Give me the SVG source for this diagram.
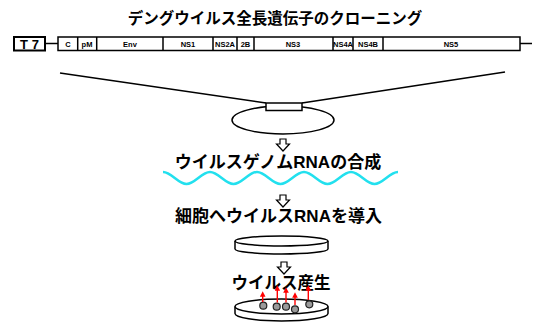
<svg xmlns="http://www.w3.org/2000/svg" width="535" height="324" viewBox="0 0 535 324">
  <defs>
    <style>
      .jp { font-family: "Liberation Sans", "Noto Sans CJK JP", sans-serif; font-weight: bold; fill: #000; text-anchor: middle; }
      .seg { fill: #fff; stroke: #000; stroke-width: 1.5; }
      .lbl { font-family: "Liberation Sans", Arial, sans-serif; font-weight: bold; font-size: 7.5px; text-anchor: middle; fill: #000; }
      .ln { stroke: #000; stroke-width: 1.5; fill: none; }
      .step { fill: #fff; stroke: #000; stroke-width: 1.2; }
      .dish { fill: #fff; stroke: #000; stroke-width: 1.5; }
      .colony { fill: #9a9a9a; stroke: #222; stroke-width: 1.2; }
      .up { stroke: #f00; stroke-width: 1.4; marker-end: url(#redHead); }
    </style>
    <marker id="redHead" viewBox="0 0 10 10" refX="5" refY="5" markerWidth="4" markerHeight="4" orient="auto">
      <path d="M0,0 L10,5 L0,10 z" fill="#f00"/>
    </marker>
    <path id="hollowDown" d="M-3,0 h6 v5 h3.5 l-6.5,7 l-6.5,-7 h3.5 z"/>
  </defs>

  <rect width="535" height="324" fill="#fff"/>

  <text id="title" class="jp" x="275" y="24" font-size="15.5">デングウイルス全長遺伝子のクローニング</text>

  <!-- genome map -->
  <g id="genome">
    <rect x="14" y="37" width="31" height="13.5" fill="#fff" stroke="#000" stroke-width="2"/>
    <text x="29.5" y="48.5" font-family="Liberation Sans, Arial, sans-serif" font-weight="bold" font-size="13" text-anchor="middle">T 7</text>
    <line class="ln" x1="45" y1="43.5" x2="58" y2="43.5"/>
    <line class="ln" x1="520" y1="43.5" x2="532" y2="43.5"/>
    <rect class="seg" x="58" y="37" width="462" height="13.5"/>
    <g class="ln">
      <line x1="77.7" y1="37" x2="77.7" y2="50.5"/>
      <line x1="96.7" y1="37" x2="96.7" y2="50.5"/>
      <line x1="163" y1="37" x2="163" y2="50.5"/>
      <line x1="213" y1="37" x2="213" y2="50.5"/>
      <line x1="237" y1="37" x2="237" y2="50.5"/>
      <line x1="254" y1="37" x2="254" y2="50.5"/>
      <line x1="333" y1="37" x2="333" y2="50.5"/>
      <line x1="353" y1="37" x2="353" y2="50.5"/>
      <line x1="383" y1="37" x2="383" y2="50.5"/>
    </g>
    <text class="lbl" x="68" y="46.5">C</text>
    <text class="lbl" x="87" y="46.5">pM</text>
    <text class="lbl" x="130" y="46.5">Env</text>
    <text class="lbl" x="188" y="46.5">NS1</text>
    <text class="lbl" x="225" y="46.5">NS2A</text>
    <text class="lbl" x="245.5" y="46.5">2B</text>
    <text class="lbl" x="293" y="46.5">NS3</text>
    <text class="lbl" x="343" y="46.5">NS4A</text>
    <text class="lbl" x="368" y="46.5">NS4B</text>
    <text class="lbl" x="451" y="46.5">NS5</text>
  </g>

  <!-- connectors -->
  <g id="connectors">
    <line class="ln" x1="60" y1="73" x2="266" y2="103"/>
    <line class="ln" x1="302" y1="103" x2="505" y2="72"/>
  </g>

  <!-- plasmid with insert -->
  <g id="plasmid">
    <ellipse cx="283" cy="120" rx="51" ry="14" fill="#fff" stroke="#000" stroke-width="1.5"/>
    <rect x="266" y="103" width="36" height="7.5" fill="#fff" stroke="#000" stroke-width="1.5"/>
  </g>

  <use href="#hollowDown" class="step" x="283" y="139"/>

  <g id="rna">
    <text class="jp" x="278" y="168" font-size="17">ウイルスゲノムRNAの合成</text>
    <path d="M163,172 C171.5,172 178,184 186.5,184 S201.5,172 210,172 S225,184 233.5,184 S248.5,172 257,172 S272,184 280.5,184 S295.5,172 304,172 S319,184 327.5,184 S342.5,172 351,172 S366,184 374.5,184 S389.5,172 398,172" fill="none" stroke="#22e0ee" stroke-width="2.5"/>
  </g>

  <use href="#hollowDown" class="step" x="283" y="195"/>

  <text id="transfect" class="jp" x="278.5" y="222" font-size="17">細胞へウイルスRNAを導入</text>

  <g id="dish1">
    <path class="dish" d="M235,241 v8 a46.5,5 0 0 0 93,0 v-8"/>
    <ellipse class="dish" cx="281.5" cy="241" rx="46.5" ry="5"/>
  </g>

  <use href="#hollowDown" class="step" x="284" y="262"/>

  <text id="produce" class="jp" x="281" y="289" font-size="16.5">ウイルス産生</text>

  <g id="dish2">
    <path class="dish" d="M235,306.5 v7 a46.5,7.5 0 0 0 93,0 v-7"/>
    <ellipse class="dish" cx="281.5" cy="306.5" rx="46.5" ry="7.5"/>
    <circle class="colony" cx="263.3" cy="305.7" r="3.5"/>
    <circle class="colony" cx="276.7" cy="306.7" r="3.5"/>
    <circle class="colony" cx="286" cy="306.7" r="3.5"/>
    <circle class="colony" cx="295" cy="309.3" r="3.5"/>
    <circle class="colony" cx="309.3" cy="304.3" r="3.5"/>
    <line class="up" x1="262.7" y1="302" x2="262.7" y2="294"/>
    <line class="up" x1="277.3" y1="302.5" x2="277.3" y2="288"/>
    <line class="up" x1="286" y1="302.5" x2="286" y2="290"/>
    <line class="up" x1="295" y1="305" x2="295" y2="295"/>
    <line class="up" x1="308.3" y1="300" x2="308.3" y2="288"/>
  </g>
</svg>
